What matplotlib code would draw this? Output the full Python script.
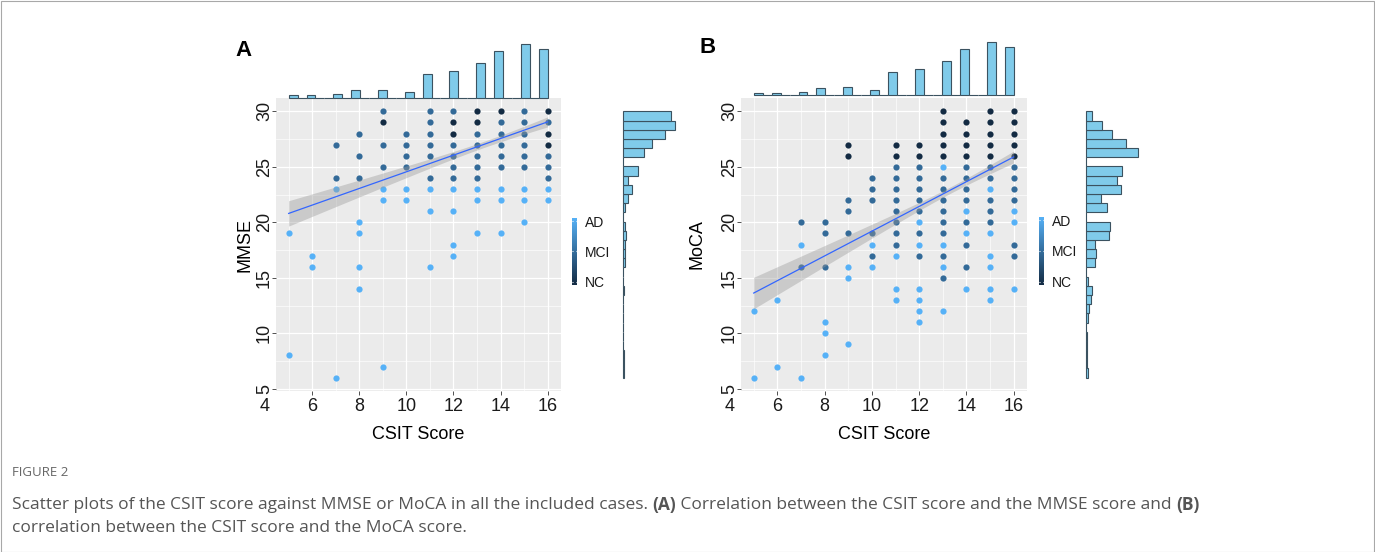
import matplotlib
matplotlib.use("Agg")
import matplotlib.pyplot as plt
import numpy as np
from matplotlib import font_manager
from matplotlib.colors import LinearSegmentedColormap
from matplotlib.patches import Rectangle

plt.rcParams["font.family"] = ["Liberation Sans", "DejaVu Sans"]

W, H = 1375, 552

# CSIT score distribution (top marginal histograms, same cases in both panels)
score_vals = list(range(5, 17))
score_counts = [3, 3, 4, 9, 10, 7, 29, 33, 43, 58, 67, 61]

# MMSE / MoCA distributions (right marginal histograms), values 6..30
test_vals = list(range(6, 31))
mmse_counts = [1, 1, 1, 0, 0, 0, 0, 0, 1, 0, 3, 2, 2, 4, 2, 3, 7, 12, 6, 20, 28, 40, 57, 71, 65]
moca_counts = [2, 1, 1, 1, 1, 2, 3, 4, 5, 2, 8, 9, 8, 20, 21, 18, 13, 30, 27, 31, 45, 34, 22, 14, 5]

# visible scatter points (CSIT, test score) by diagnosis
mmse_nc = [(9, 29), (12, 29), (12, 28), (13, 30), (13, 29), (14, 30), (16, 30), (16, 28), (16, 27)]
mmse_mci = [(7, 27), (7, 24), (8, 28), (8, 26), (8, 24), (9, 30), (9, 27), (9, 25),
            (10, 28), (10, 27), (10, 26), (10, 25),
            (11, 30), (11, 29), (11, 28), (11, 27), (11, 26), (11, 24),
            (12, 30), (12, 27), (12, 26), (12, 25), (12, 24),
            (13, 28), (13, 27), (13, 26), (13, 25), (13, 24),
            (14, 29), (14, 28), (14, 27), (14, 26), (14, 25),
            (15, 30), (15, 29), (15, 28), (15, 27), (15, 26), (15, 25),
            (16, 29), (16, 26), (16, 25), (16, 24)]
mmse_ad = [(5, 19), (5, 8), (6, 17), (6, 16), (7, 23), (7, 6),
           (8, 20), (8, 19), (8, 16), (8, 14), (9, 23), (9, 22), (9, 7),
           (10, 23), (10, 22), (11, 23), (11, 21), (11, 16),
           (12, 23), (12, 21), (12, 18), (12, 17), (13, 23), (13, 22), (13, 19),
           (14, 23), (14, 22), (14, 19), (15, 23), (15, 22), (15, 20), (16, 23), (16, 22)]

moca_nc = [(13, 30), (15, 30), (16, 30), (13, 29), (14, 29), (15, 29), (16, 29),
           (13, 28), (14, 28), (15, 28), (16, 28),
           (9, 27), (11, 27), (12, 27), (13, 27), (14, 27), (15, 27), (16, 27),
           (9, 26), (11, 26), (12, 26), (13, 26), (14, 26), (15, 26), (16, 26)]
moca_mci = [(11, 25), (12, 25), (14, 25), (15, 25), (16, 25),
            (10, 24), (11, 24), (12, 24), (13, 24), (14, 24), (15, 24), (16, 24),
            (10, 23), (11, 23), (12, 23), (13, 23), (14, 23), (16, 23),
            (9, 22), (10, 22), (11, 22), (12, 22), (13, 22), (14, 22), (15, 22), (16, 22),
            (9, 21), (11, 21), (12, 21), (13, 21), (15, 21),
            (7, 20), (8, 20), (11, 20), (13, 20), (14, 20), (15, 20),
            (8, 19), (9, 19), (10, 19), (11, 19), (12, 19), (13, 19),
            (11, 18), (14, 18), (16, 18), (10, 17), (12, 17), (13, 17), (16, 17),
            (7, 16), (8, 16), (14, 16), (13, 15)]
moca_ad = [(13, 25), (15, 23), (14, 21), (16, 21), (12, 20), (16, 20), (14, 19), (15, 19),
           (7, 18), (10, 18), (12, 18), (13, 18), (11, 17), (15, 17),
           (9, 16), (10, 16), (13, 16), (15, 16), (9, 15),
           (11, 14), (12, 14), (14, 14), (15, 14), (16, 14),
           (6, 13), (11, 13), (12, 13), (15, 13), (5, 12), (12, 12), (13, 12),
           (8, 11), (12, 11), (8, 10), (9, 9), (8, 8), (6, 7), (5, 6), (7, 6)]

# linear fits: (intercept, slope), band (half-width at mean, growth)
mmse_fit = (17.05, 0.75)
mmse_band = (0.28, 0.133)
moca_fit = (8.05, 1.115)
moca_band = (0.29, 0.167)

C_AD, C_MCI, C_NC = "#56B1F7", "#336A98", "#132B43"
HIST_FILL, HIST_EDGE = "#80CBEA", "#3B5260"
XLIM = (4.45, 16.55)
YLIM = (4.8, 31.2)

# caption face: a narrow sans if one is installed, otherwise Open Sans
_names = {f.name for f in font_manager.fontManager.ttflist}
CAP_FONT = "Liberation Sans Narrow" if "Liberation Sans Narrow" in _names else "Open Sans"


def px_rect(l, t, r, b):
    return [l / W, 1 - b / H, (r - l) / W, (b - t) / H]


def draw_panel(fig, lay, nc, mci, ad, fit, band, counts, ylabel, letter):
    l, t, r, b = lay["main"]
    ax = fig.add_axes(px_rect(l, t, r, b))
    ax.set_facecolor("#EBEBEB")
    for s in ax.spines.values():
        s.set_visible(False)
    ax.set_xlim(*XLIM); ax.set_ylim(*YLIM)
    ax.set_xticks(range(6, 17, 2)); ax.set_xticks(range(5, 17, 2), minor=True)
    ax.set_yticks(range(5, 31, 5)); ax.set_yticks(np.arange(7.5, 30, 5), minor=True)
    ax.grid(True, which="major", color="white", lw=0.9)
    ax.grid(True, which="minor", color="white", lw=0.45)
    ax.set_axisbelow(True)
    ax.tick_params(which="major", length=3, width=0.6, color="#333333",
                   labelsize=13, pad=2, labelcolor="#1a1a1a")
    ax.tick_params(axis="y", pad=-1)
    ax.tick_params(which="minor", length=0)
    ax.tick_params(axis="y", labelrotation=90)
    for lab in ax.get_yticklabels():
        lab.set_va("center")
    ax.annotate("4", xy=(4, 0), xycoords=ax.get_xaxis_transform(), xytext=(0, -5),
                textcoords="offset points", ha="center", va="top", fontsize=13,
                color="#1a1a1a", annotation_clip=False)
    ax.set_xlabel("CSIT Score", fontsize=13, labelpad=8)
    ax.set_ylabel(ylabel, fontsize=13, labelpad=lay["ylabpad"])

    for pts, c in ((nc, C_NC), (mci, C_MCI), (ad, C_AD)):
        xs, ys = zip(*pts)
        ax.scatter(xs, ys, s=20, color=c, lw=0, zorder=2)

    xbar = np.average(score_vals, weights=score_counts)
    xs = np.linspace(min(score_vals), max(score_vals), 100)
    yfit = fit[0] + fit[1] * xs
    half = np.sqrt(band[0] ** 2 + (band[1] * (xs - xbar)) ** 2)
    ax.fill_between(xs, yfit - half, yfit + half, color="#999999", alpha=0.4, lw=0, zorder=3)
    ax.plot(xs, yfit, color="#3366FF", lw=0.9, zorder=4)

    # top marginal
    tt, tb = lay["top"]
    axt = fig.add_axes(px_rect(l, tt, r, tb))
    axt.hist(score_vals, bins=np.linspace(5, 16, 30), weights=score_counts,
             color=HIST_FILL, edgecolor=HIST_EDGE, lw=0.8, clip_on=False)
    axt.set_xlim(*XLIM); axt.set_ylim(0, max(score_counts))
    axt.axis("off")

    # right marginal
    rl, rr = lay["right"]
    axr = fig.add_axes(px_rect(rl, t, rr, b))
    axr.hist(test_vals, bins=np.linspace(6, 30, 30), weights=counts, orientation="horizontal",
             color=HIST_FILL, edgecolor=HIST_EDGE, lw=0.8, clip_on=False)
    axr.set_ylim(*YLIM); axr.set_xlim(0, max(counts))
    axr.axis("off")

    # colour bar legend
    cl, ct, cr, cb = lay["cbar"]
    cax = fig.add_axes(px_rect(cl, ct, cr, cb))
    cmap = LinearSegmentedColormap.from_list("dx", [C_NC, C_AD])
    lo, hi = 0.9, 3.1
    cax.imshow(np.linspace(lo, hi, 256)[:, None], aspect="auto", cmap=cmap,
               origin="lower", extent=[0, 1, lo, hi])
    cax.set_xlim(0, 1); cax.set_ylim(lo, hi)
    cax.hlines([1, 2, 3], 0, 0.22, color="white", lw=0.8)
    cax.hlines([1, 2, 3], 0.78, 1, color="white", lw=0.8)
    cax.set_xticks([])
    cax.yaxis.tick_right()
    cax.set_yticks([1, 2, 3], ["NC", "MCI", "AD"])
    cax.tick_params(length=0, labelsize=10, pad=6, labelcolor="#1a1a1a")
    for s in cax.spines.values():
        s.set_visible(False)

    fig.text(lay["letter"][0] / W, 1 - lay["letter"][1] / H, letter,
             fontsize=16, fontweight="bold", ha="center", va="center")


fig = plt.figure(figsize=(W / 100, H / 100), dpi=100)
fig.patches.append(Rectangle((0.5 / W, 0.5 / H), 1 - 1.5 / W, 1 - 1.5 / H,
                             transform=fig.transFigure, fill=False,
                             edgecolor="#a8a8a8", lw=0.8))

lay_a = dict(main=(275.7, 98, 560.6, 391), top=(44, 97.7), right=(623.3, 675),
             cbar=(571.7, 218, 576.7, 285), letter=(244, 51), ylabpad=2)
lay_b = dict(main=(740.7, 98, 1026.7, 391), top=(42.3, 95.3), right=(1086, 1138.3),
             cbar=(1039, 217, 1043.5, 285), letter=(708, 48), ylabpad=11)

draw_panel(fig, lay_a, mmse_nc, mmse_mci, mmse_ad, mmse_fit, mmse_band, mmse_counts, "MMSE", "A")
draw_panel(fig, lay_b, moca_nc, moca_mci, moca_ad, moca_fit, moca_band, moca_counts, "MoCA", "B")

# caption
CAP = "#555555"
fig.text(12 / W, 1 - 473 / H, "FIGURE 2", fontsize=9.5, color="#666666", va="center",
         family=CAP_FONT)

renderer = fig.canvas.get_renderer()
line1 = [("Scatter plots of the CSIT score against MMSE or MoCA in all the included cases. ", False),
         ("(A)", True),
         (" Correlation between the CSIT score and the MMSE score and ", False),
         ("(B)", True)]
line2 = [("correlation between the CSIT score and the MoCA score.", False)]


def rich_line(y, parts, size, draw=True):
    x = 12
    for txt, bold in parts:
        t = fig.text(x / W, 1 - y / H, txt, fontsize=size, color=CAP, va="center",
                     family=CAP_FONT, fontweight="bold" if bold else "normal")
        x += t.get_window_extent(renderer).width
        if not draw:
            t.remove()
    return x - 12


# size the caption so the first line spans the same width as in the original
probe = rich_line(505, line1, 10, draw=False)
cap_size = min(10 * 1263 / probe, 12.5)
rich_line(505, line1, cap_size)
rich_line(528, line2, cap_size)

fig.savefig("out.png", dpi=100)
